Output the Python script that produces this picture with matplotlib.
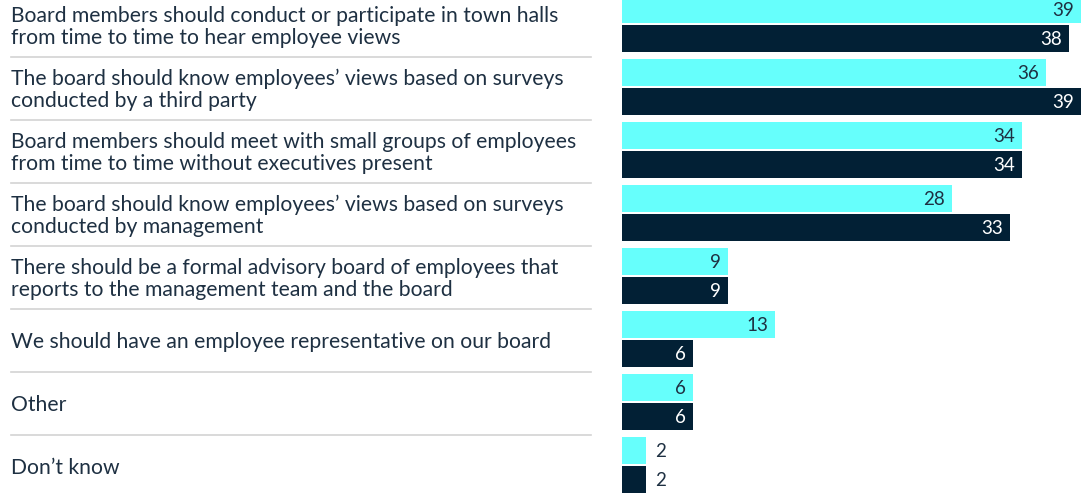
import numpy as np
import matplotlib
matplotlib.use('Agg')
import matplotlib.pyplot as plt
from matplotlib.transforms import blended_transform_factory

# Datos
labels = ['Board members should conduct or participate in town halls\nfrom time to time to hear employee views',
          'The board should know employees\u2019 views based on surveys\nconducted by a third party',
          'Board members should meet with small groups of employees\nfrom time to time without executives present',
          'The board should know employees\u2019 views based on surveys\nconducted by management',
          'There should be a formal advisory board of employees that\nreports to the management team and the board',
          'We should have an employee representative on our board',
          'Other',
          'Don\u2019t know']
serie1 = [39, 36, 34, 28, 9, 13, 6, 2]
serie2 = [38, 39, 34, 33, 9, 6, 6, 2]

clr1 = '#66FFFC'
clr2 = '#022035'
txt = '#1E3042'

plt.rcParams['font.family'] = ['Lato', 'DejaVu Sans']

W, H = 1091, 493
fig = plt.figure(figsize=(W/100, H/100), dpi=100)
ax = fig.add_axes([622/W, 0, 469/W, 1])

n = len(labels)
yc = 24 + 63*np.arange(n)   # centros de grupo (px)
bh = 27
ax.barh(yc - 14.5, serie1, height=bh, color=clr1)
ax.barh(yc + 14.5, serie2, height=bh, color=clr2)
ax.set_xlim(0, 469/11.77)
ax.set_ylim(H, 0)
ax.axis('off')

# etiquetas de valor
for i in range(n):
    for v, y, c in [(serie1[i], yc[i]-14.5, txt), (serie2[i], yc[i]+14.5, 'white')]:
        if v >= 5:
            ax.text(v - 0.6, y + 1, str(v), ha='right', va='center', fontsize=13.5, color=c)
        else:
            ax.text(v + 0.85, y + 1, str(v), ha='left', va='center', fontsize=13.5, color=txt)

# textos de categoría y separadores
tr = blended_transform_factory(fig.transFigure, ax.transData)
for i in range(n):
    ax.text(11/W, yc[i] + 3, labels[i], transform=tr, ha='left', va='center',
            fontsize=15.2, color=txt, linespacing=1.1, clip_on=False)
    if i < n - 1:
        ax.plot([11/W, 591/W], [yc[i]+33, yc[i]+33], transform=tr, color='#D3D3D3',
                linewidth=1.2, clip_on=False)

fig.savefig('out.png', dpi=100)
